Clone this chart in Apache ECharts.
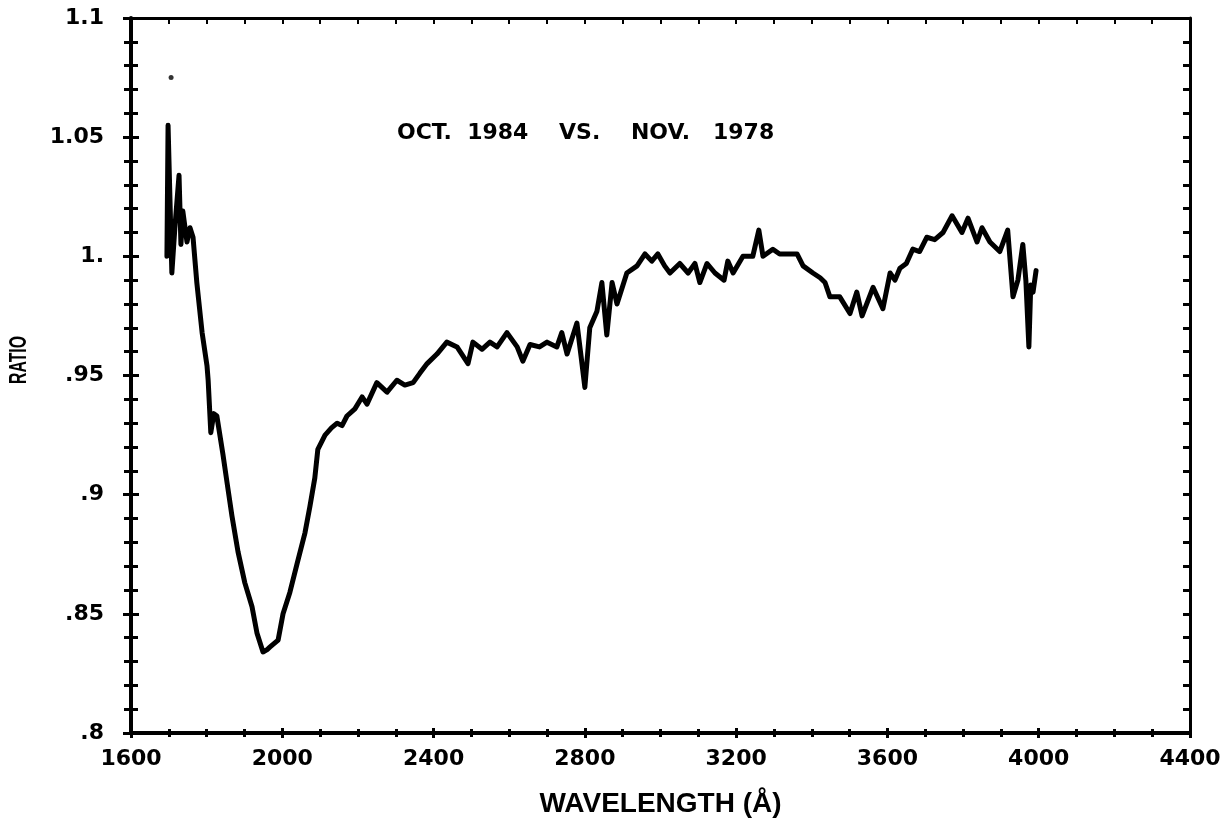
<!DOCTYPE html>
<html>
<head>
<meta charset="utf-8">
<script src="https://cdn.jsdelivr.net/npm/echarts@6/dist/echarts.min.js"></script>
<style>
html,body{margin:0;padding:0;background:#fff;}
#chart{width:1232px;height:824px;}
</style>
</head>
<body>
<div id="chart"></div>
<script>
// Wavelength (Angstrom) and ratio values
const wavelengths = [1695,1698,1708,1716,1727,1732,1737,1748,1756,1764,1774,1788,1801,1804,1811,1819,1827,1843,1854,1867,1883,1901,1920,1933,1949,1960,1967,1989,2002,2020,2039,2060,2073,2086,2094,2113,2130,2145,2158,2171,2192,2211,2224,2250,2277,2303,2324,2346,2364,2383,2409,2435,2462,2491,2504,2528,2549,2568,2594,2621,2636,2655,2680,2700,2726,2739,2753,2779,2790,2800,2813,2832,2845,2858,2872,2885,2911,2938,2959,2977,2993,3011,3025,3051,3073,3091,3104,3123,3144,3168,3178,3192,3218,3244,3260,3271,3297,3315,3334,3361,3377,3403,3422,3435,3448,3474,3501,3519,3533,3562,3588,3607,3620,3633,3650,3667,3685,3704,3725,3747,3771,3797,3813,3837,3850,3871,3897,3918,3932,3945,3958,3966,3974,3979,3985,3993];
const ratios = [1.000,1.055,0.993,1.012,1.034,1.005,1.019,1.006,1.012,1.008,0.989,0.968,0.954,0.948,0.926,0.934,0.933,0.917,0.905,0.891,0.876,0.863,0.853,0.842,0.834,0.835,0.836,0.839,0.850,0.859,0.871,0.884,0.895,0.907,0.919,0.925,0.928,0.930,0.929,0.933,0.936,0.941,0.938,0.947,0.943,0.948,0.946,0.947,0.951,0.955,0.959,0.964,0.962,0.955,0.964,0.961,0.964,0.962,0.968,0.962,0.956,0.963,0.962,0.964,0.962,0.968,0.959,0.972,0.958,0.945,0.970,0.977,0.989,0.967,0.989,0.980,0.993,0.996,1.001,0.998,1.001,0.996,0.993,0.997,0.993,0.997,0.989,0.997,0.993,0.990,0.998,0.993,1.000,1.000,1.011,1.000,1.003,1.001,1.001,1.001,0.996,0.993,0.991,0.989,0.983,0.983,0.976,0.985,0.975,0.987,0.978,0.993,0.990,0.995,0.997,1.003,1.002,1.008,1.007,1.010,1.017,1.010,1.016,1.006,1.012,1.006,1.002,1.011,0.983,0.990,1.005,0.990,0.962,0.988,0.985,0.994];
// isolated stray point near the start
const strayWavelengths = [1706];
const strayRatios = [1.075];

const xTickLabels = ['1600','2000','2400','2800','3200','3600','4000','4400'];
const yTickLabels = ['.8','.85','.9','.95','1.','1.05','1.1'];
const titleText = 'OCT.  1984    VS.    NOV.   1978';
const xAxisName = 'WAVELENGTH (\u00C5)';
const yAxisName = 'RATIO';

const X_MIN = 1600, X_MAX = 4400, X_INT = 400;
const Y_MIN = 0.8, Y_MAX = 1.1, Y_INT = 0.05;

const lineData = wavelengths.map((w, i) => [w, ratios[i]]);
const strayData = strayWavelengths.map((w, i) => [w, strayRatios[i]]);

const labelFont = {color:'#000', fontFamily:'DejaVu Sans', fontWeight:'bold', fontSize:22};
const gridPos = {left:131, right:42, top:18, bottom:91};

function xLabel(v){ const i = Math.round((v - X_MIN)/X_INT); return xTickLabels[i] || ''; }
function yLabel(v){ const i = Math.round((v - Y_MIN)/Y_INT); return yTickLabels[i] || ''; }

const chart = echarts.init(document.getElementById('chart'), null, {renderer:'canvas'});
chart.setOption({
  backgroundColor:'#fff',
  animation:false,
  title:{
    text:titleText, left:392, top:117,
    textStyle:{color:'#000', fontFamily:'DejaVu Sans', fontWeight:'bold', fontSize:22}
  },
  graphic:[{
    type:'text', x:19, y:360, rotation:Math.PI/2, scaleX:0.72, scaleY:1.12,
    style:{text:yAxisName, fill:'#000', font:'bold 22px "Liberation Sans"', align:'center', verticalAlign:'middle'}
  }],
  grid:[Object.assign({}, gridPos), Object.assign({}, gridPos)],
  xAxis:[
    {type:'value', gridIndex:0, position:'bottom', min:X_MIN, max:X_MAX, interval:X_INT,
     axisLine:{show:true, lineStyle:{color:'#000', width:4}},
     axisTick:{show:true, inside:false, length:5, lineStyle:{color:'#000', width:3}},
     minorTick:{show:true, splitNumber:4, length:4, lineStyle:{color:'#000', width:3}},
     axisLabel:Object.assign({formatter:xLabel, margin:15}, labelFont),
     splitLine:{show:false},
     name:xAxisName, nameLocation:'middle', nameGap:57,
     nameTextStyle:{color:'#000', fontFamily:'Liberation Sans', fontWeight:'bold', fontSize:28}},
    {type:'value', gridIndex:0, position:'top', min:X_MIN, max:X_MAX, interval:X_INT,
     axisLine:{show:true, lineStyle:{color:'#000', width:3}},
     axisTick:{show:true, inside:true, length:6, lineStyle:{color:'#000', width:2}},
     minorTick:{show:true, splitNumber:4, length:6, lineStyle:{color:'#000', width:2}},
     axisLabel:{show:false}, splitLine:{show:false}},
    {type:'value', gridIndex:1, position:'bottom', min:X_MIN, max:X_MAX, interval:X_INT,
     axisLine:{show:false},
     axisTick:{show:true, inside:true, length:5, lineStyle:{color:'#000', width:3}},
     minorTick:{show:true, splitNumber:4, length:4, lineStyle:{color:'#000', width:3}},
     axisLabel:{show:false}, splitLine:{show:false}}
  ],
  yAxis:[
    {type:'value', gridIndex:0, position:'left', min:Y_MIN, max:Y_MAX, interval:Y_INT,
     axisLine:{show:true, lineStyle:{color:'#000', width:4}},
     axisTick:{show:true, inside:false, length:8, lineStyle:{color:'#000', width:3}},
     minorTick:{show:true, splitNumber:5, length:7, lineStyle:{color:'#000', width:3}},
     axisLabel:Object.assign({formatter:yLabel, margin:27}, labelFont),
     splitLine:{show:false}},
    {type:'value', gridIndex:0, position:'right', min:Y_MIN, max:Y_MAX, interval:Y_INT,
     axisLine:{show:true, lineStyle:{color:'#000', width:3}},
     axisTick:{show:true, inside:true, length:7, lineStyle:{color:'#000', width:3}},
     minorTick:{show:true, splitNumber:5, length:7, lineStyle:{color:'#000', width:3}},
     axisLabel:{show:false}, splitLine:{show:false}},
    {type:'value', gridIndex:1, position:'left', min:Y_MIN, max:Y_MAX, interval:Y_INT,
     axisLine:{show:false},
     axisTick:{show:true, inside:true, length:8, lineStyle:{color:'#000', width:3}},
     minorTick:{show:true, splitNumber:5, length:7, lineStyle:{color:'#000', width:3}},
     axisLabel:{show:false}, splitLine:{show:false}}
  ],
  series:[
    {type:'line', xAxisIndex:0, yAxisIndex:0, data:lineData, showSymbol:false, symbol:'none',
     lineStyle:{color:'#000', width:5, join:'round', cap:'round'}},
    {type:'scatter', xAxisIndex:0, yAxisIndex:0, data:strayData, symbol:'circle', symbolSize:5,
     itemStyle:{color:'#000'}}
  ]
});
</script>
</body>
</html>
